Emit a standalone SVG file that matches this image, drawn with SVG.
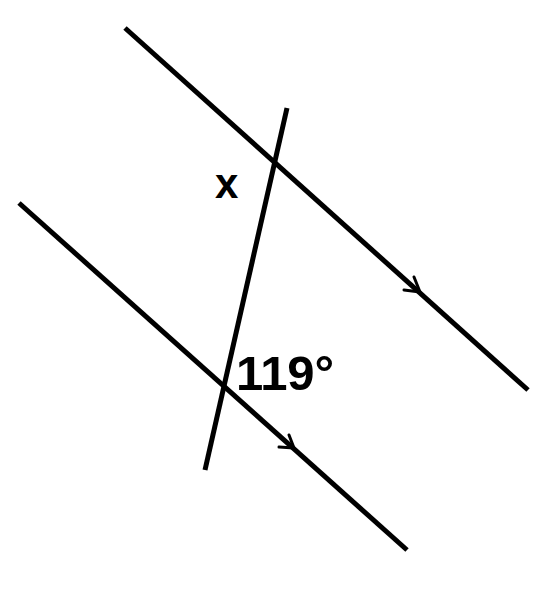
<svg xmlns="http://www.w3.org/2000/svg" width="545" height="600" viewBox="0 0 545 600">
<style>
.ln{stroke:#000;stroke-width:5;fill:none;stroke-linecap:butt}
.ar{stroke:#000;stroke-width:3;fill:none;stroke-linecap:round;stroke-linejoin:round}
.t{font-family:"Liberation Sans",Arial,sans-serif;font-weight:bold;fill:#000}
</style>
<rect width="545" height="600" fill="#fff"/>
<g id="connectors">
<line class="ln" x1="125" y1="28" x2="528" y2="390"/>
<line class="ln" x1="19" y1="203" x2="407" y2="550"/>
<line class="ln" x1="287" y1="108" x2="205" y2="470"/>
<path class="ar" d="M414,277 L420,292 L404,290"/>
<path class="ar" d="M289,435 L294,448 L279,447"/>
</g>
<g id="label-x"><text class="t" x="215" y="198" font-size="42">x</text></g>
<g id="label-119"><text class="t" x="236" y="390" font-size="49" textLength="98" lengthAdjust="spacing">119°</text></g>
</svg>
